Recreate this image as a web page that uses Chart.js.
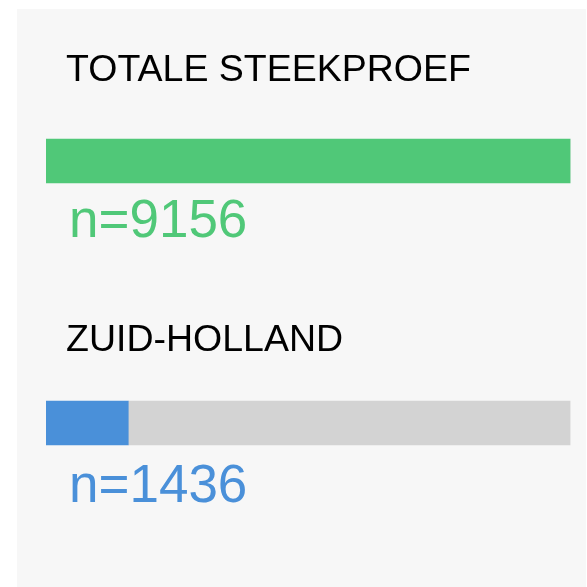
<!DOCTYPE html>
<html>
<head>
<meta charset="utf-8">
<script src="https://cdn.jsdelivr.net/npm/chart.js@4.4.1/dist/chart.umd.min.js"></script>
<style>
  html, body { margin: 0; padding: 0; background: #ffffff; width: 587px; height: 587px; overflow: hidden; }
  #wrap { position: absolute; left: 17px; top: 9px; width: 569px; height: 578px; background: #f7f7f7; }
</style>
</head>
<body>
<div id="wrap"><canvas id="c"></canvas></div>
<script>
const categories = ['TOTALE STEEKPROEF', 'ZUID-HOLLAND'];
const counts = [9156, 1436];
const total = 9156;
const barColors = ['#50C878', '#4A90D9'];
const restColor = '#D3D3D3';
const countLabels = counts.map(v => 'n=' + v);

const labelPlugin = {
  id: 'barLabels',
  afterDatasetsDraw(chart, args, opts) {
    const ctx = chart.ctx;
    const meta = chart.getDatasetMeta(0);
    meta.data.forEach((bar, i) => {
      const props = bar.getProps(['x', 'y', 'base', 'height'], true);
      const left = props.base;
      const top = props.y - props.height / 2;
      const bottom = props.y + props.height / 2;
      ctx.save();
      ctx.textAlign = 'left';
      ctx.textBaseline = 'alphabetic';
      ctx.fillStyle = '#000000';
      ctx.font = '37.5px "Liberation Sans", Arial, sans-serif';
      ctx.fillText(categories[i], left + 20, top - opts.titleGap[i]);
      ctx.fillStyle = barColors[i];
      ctx.font = '53px "Liberation Sans", Arial, sans-serif';
      ctx.fillText(countLabels[i], left + 23, bottom + opts.countGap[i]);
      ctx.restore();
    });
  }
};

new Chart(document.getElementById('c'), {
  type: 'bar',
  data: {
    labels: categories,
    datasets: [
      {
        data: counts,
        backgroundColor: barColors,
        borderWidth: 0,
        barThickness: 44,
        stack: 's'
      },
      {
        data: counts.map(v => total - v),
        backgroundColor: restColor,
        borderWidth: 0,
        barThickness: 44,
        stack: 's'
      }
    ]
  },
  options: {
    indexAxis: 'y',
    responsive: true,
    maintainAspectRatio: false,
    animation: false,
    layout: { padding: { left: 29, right: 15.5, top: 21, bottom: 33 } },
    plugins: {
      legend: { display: false },
      tooltip: { enabled: false },
      barLabels: { titleGap: [58, 50], countGap: [54, 56.5] }
    },
    scales: {
      x: { stacked: true, display: false, min: 0, max: total },
      y: { stacked: true, display: false }
    }
  },
  plugins: [labelPlugin]
});
</script>
</body>
</html>
